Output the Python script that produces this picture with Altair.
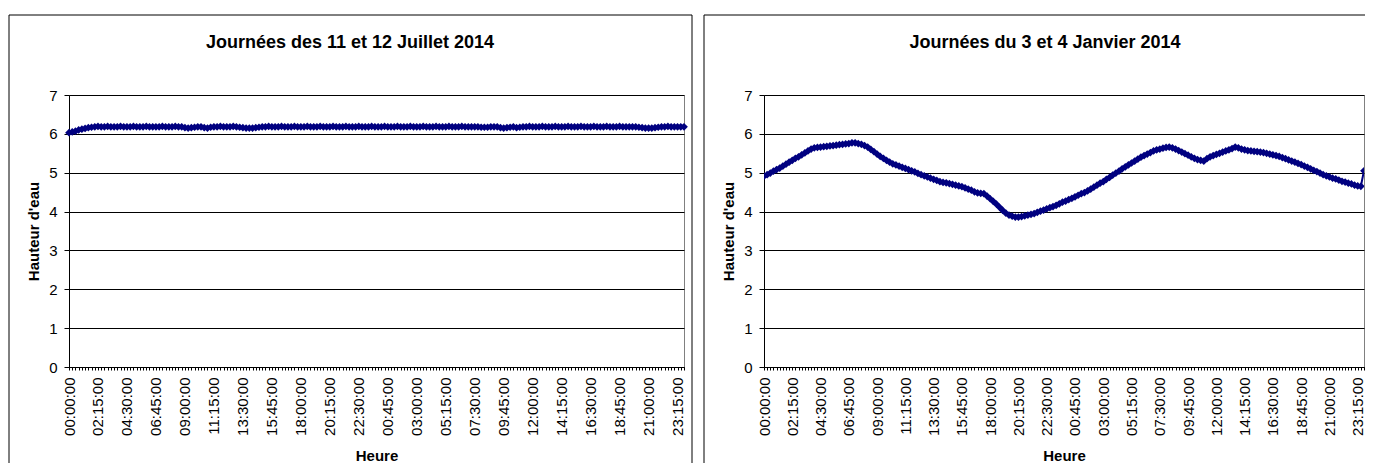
import json
import altair as alt
import pandas as pd

TITLE_LEFT = "Journées des 11 et 12 Juillet 2014"
TITLE_RIGHT = "Journées du 3 et 4 Janvier 2014"
Y_TITLE = "Hauteur d'eau"
X_TITLE = "Heure"

TICK_LABELS = ["00:00:00", "02:15:00", "04:30:00", "06:45:00", "09:00:00", "11:15:00",
               "13:30:00", "15:45:00", "18:00:00", "20:15:00", "22:30:00", "00:45:00",
               "03:00:00", "05:15:00", "07:30:00", "09:45:00", "12:00:00", "14:15:00",
               "16:30:00", "18:45:00", "21:00:00", "23:15:00"]
LABEL_STEP = 9

LEFT_VALUES = [
    6.03, 6.05, 6.07, 6.10, 6.12, 6.14, 6.16, 6.17, 6.18, 6.19, 6.18, 6.18,
    6.19, 6.18, 6.18, 6.18, 6.19, 6.18, 6.18, 6.18, 6.19, 6.18, 6.18, 6.18,
    6.19, 6.18, 6.18, 6.18, 6.18, 6.19, 6.18, 6.18, 6.18, 6.19, 6.18, 6.18,
    6.16, 6.15, 6.16, 6.17, 6.18, 6.18, 6.16, 6.15, 6.17, 6.18, 6.18, 6.19,
    6.18, 6.18, 6.18, 6.19, 6.18, 6.17, 6.16, 6.15, 6.15, 6.15, 6.16, 6.17,
    6.18, 6.18, 6.19, 6.18, 6.18, 6.18, 6.19, 6.18, 6.18, 6.18, 6.19, 6.18,
    6.18, 6.18, 6.19, 6.18, 6.18, 6.18, 6.19, 6.18, 6.18, 6.18, 6.19, 6.18,
    6.18, 6.18, 6.19, 6.18, 6.18, 6.18, 6.19, 6.18, 6.18, 6.18, 6.19, 6.18,
    6.18, 6.18, 6.19, 6.18, 6.18, 6.18, 6.19, 6.18, 6.18, 6.18, 6.19, 6.18,
    6.18, 6.18, 6.19, 6.18, 6.18, 6.18, 6.19, 6.18, 6.18, 6.18, 6.19, 6.18,
    6.18, 6.18, 6.19, 6.18, 6.18, 6.18, 6.18, 6.18, 6.17, 6.17, 6.17, 6.18,
    6.18, 6.18, 6.16, 6.15, 6.16, 6.17, 6.18, 6.16, 6.17, 6.18, 6.18, 6.19,
    6.18, 6.18, 6.18, 6.19, 6.18, 6.18, 6.18, 6.19, 6.18, 6.18, 6.18, 6.19,
    6.18, 6.18, 6.18, 6.19, 6.18, 6.18, 6.18, 6.19, 6.18, 6.18, 6.18, 6.19,
    6.18, 6.18, 6.18, 6.19, 6.18, 6.18, 6.18, 6.18, 6.18, 6.17, 6.16, 6.15,
    6.15, 6.15, 6.16, 6.17, 6.18, 6.18, 6.19, 6.18, 6.18, 6.18, 6.18, 6.18,
]

RIGHT_VALUES = [
    4.91, 4.95, 4.99, 5.04, 5.08, 5.12, 5.17, 5.22, 5.27, 5.32, 5.37, 5.41,
    5.46, 5.51, 5.56, 5.61, 5.64, 5.65, 5.66, 5.67, 5.68, 5.69, 5.70, 5.71,
    5.72, 5.73, 5.74, 5.75, 5.77, 5.77, 5.75, 5.73, 5.70, 5.66, 5.60, 5.54,
    5.48, 5.42, 5.37, 5.32, 5.27, 5.23, 5.20, 5.17, 5.14, 5.11, 5.08, 5.05,
    5.02, 4.98, 4.95, 4.92, 4.89, 4.86, 4.83, 4.80, 4.77, 4.75, 4.74, 4.72,
    4.70, 4.68, 4.66, 4.64, 4.61, 4.58, 4.55, 4.51, 4.48, 4.47, 4.46, 4.40,
    4.33, 4.26, 4.19, 4.11, 4.03, 3.96, 3.91, 3.88, 3.86, 3.86, 3.87, 3.89,
    3.91, 3.93, 3.95, 3.98, 4.01, 4.04, 4.07, 4.10, 4.13, 4.16, 4.20, 4.24,
    4.27, 4.31, 4.34, 4.38, 4.42, 4.46, 4.49, 4.53, 4.58, 4.63, 4.68, 4.73,
    4.77, 4.83, 4.88, 4.94, 4.99, 5.04, 5.10, 5.15, 5.20, 5.25, 5.30, 5.35,
    5.40, 5.44, 5.48, 5.52, 5.56, 5.59, 5.61, 5.63, 5.65, 5.66, 5.64, 5.61,
    5.57, 5.53, 5.49, 5.45, 5.41, 5.37, 5.34, 5.32, 5.30, 5.36, 5.41, 5.44,
    5.47, 5.50, 5.53, 5.56, 5.59, 5.62, 5.66, 5.64, 5.61, 5.59, 5.57, 5.56,
    5.55, 5.54, 5.53, 5.52, 5.50, 5.48, 5.46, 5.44, 5.42, 5.39, 5.36, 5.33,
    5.30, 5.27, 5.24, 5.21, 5.17, 5.14, 5.10, 5.06, 5.03, 4.99, 4.95, 4.92,
    4.89, 4.86, 4.84, 4.81, 4.78, 4.76, 4.73, 4.71, 4.68, 4.66, 4.65, 5.05,
]

FONT = "Liberation Sans"
NAVY = "#000080"
PLOT_H = 272


def panel(values, title, width, right_frame, clip, title_x):
    df = pd.DataFrame({"i": list(range(len(values))), "h": values})
    label_expr = (f"datum.value % {LABEL_STEP} === 0 ? "
                  f"{json.dumps(TICK_LABELS)}[datum.value / {LABEL_STEP}] : ''")
    x = alt.X(
        "i:O",
        scale=alt.Scale(type="point", padding=0),
        axis=alt.Axis(
            title=X_TITLE, titleFont=FONT, titleFontSize=15, titleFontWeight="bold",
            titleColor="black", titleY=88, titleBaseline="middle",
            labelExpr=label_expr, labelAngle=270, labelAlign="right",
            labelBaseline="middle", labelPadding=7, labelFont=FONT,
            labelFontSize=15, labelColor="black", labelOverlap=False,
            tickSize=3, tickColor="black", domainColor="black", grid=False,
        ),
    )
    y = alt.Y(
        "h:Q",
        scale=alt.Scale(domain=[0, 7], nice=False),
        axis=alt.Axis(
            title=Y_TITLE, titleFont=FONT, titleFontSize=15, titleFontWeight="bold",
            titleColor="black", titleAngle=270, titleX=-36, titleY=PLOT_H / 2,
            titleAlign="center", titleBaseline="middle",
            values=[0, 1, 2, 3, 4, 5, 6, 7], labelFont=FONT, labelFontSize=15,
            labelColor="black", labelPadding=7, tickSize=5, tickColor="black",
            domainColor="black", grid=True, gridColor="black", gridWidth=1,
            gridOpacity=1,
        ),
    )
    base = alt.Chart(df)
    line = base.mark_line(color=NAVY, strokeWidth=2, clip=clip).encode(x=x, y=y)
    pts = base.mark_point(shape="diamond", filled=True, size=60, color=NAVY,
                          opacity=1, clip=clip).encode(x=x, y=y)

    one = alt.Data(values=[{"a": 1}])
    frame_left = alt.Chart(one).mark_rule(color="black", strokeWidth=1).encode(
        x=alt.value(-60), y=alt.value(-80), y2=alt.value(368))
    top_end = width + 8 if right_frame else width + 1
    frame_top = alt.Chart(one).mark_rule(color="black", strokeWidth=1).encode(
        x=alt.value(-60), x2=alt.value(top_end), y=alt.value(-80))
    layers = [line, pts, frame_left, frame_top]
    if right_frame:
        layers.append(alt.Chart(one).mark_rule(color="black", strokeWidth=1).encode(
            x=alt.value(width + 8), y=alt.value(-80), y2=alt.value(368)))
    title_txt = alt.Chart(one).mark_text(
        text=title, font=FONT, fontSize=18, fontWeight="bold", color="black",
        align="center", baseline="alphabetic").encode(
        x=alt.value(title_x), y=alt.value(-47))
    layers.append(title_txt)
    return alt.layer(*layers).properties(width=width, height=PLOT_H)


left = panel(LEFT_VALUES, TITLE_LEFT, 615, True, False, 281)
right = panel(RIGHT_VALUES, TITLE_RIGHT, 600, False, True, 281)

chart = alt.hconcat(left, right, spacing=10).properties(
    padding={"left": 0, "top": 6, "right": -7, "bottom": 0}
).configure_view(stroke="#808080", strokeWidth=1)

chart.save("out.html", embed_options={"renderer": "svg", "actions": False})
